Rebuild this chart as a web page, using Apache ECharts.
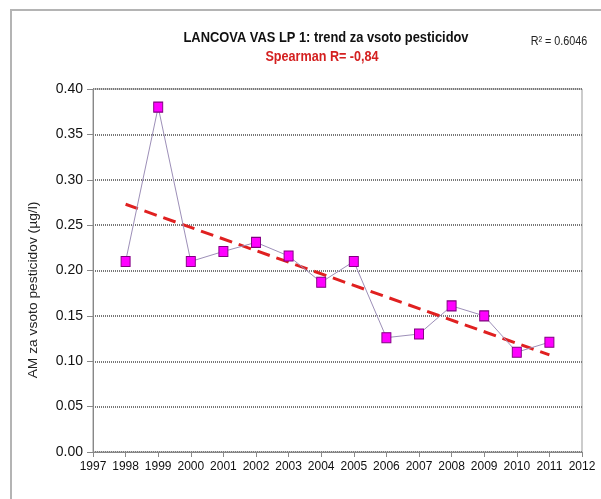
<!DOCTYPE html>
<html>
<head>
<meta charset="utf-8">
<script src="https://cdn.jsdelivr.net/npm/echarts@6/dist/echarts.min.js"></script>
<style>html,body{margin:0;padding:0;background:#fff}#c{width:601px;height:499px}</style>
</head>
<body>
<div id="c"></div>
<script>
var years = [1998, 1999, 2000, 2001, 2002, 2003, 2004, 2005, 2006, 2007, 2008, 2009, 2010, 2011];
var values = [0.21, 0.38, 0.21, 0.221, 0.231, 0.216, 0.187, 0.21, 0.126, 0.13, 0.161, 0.15, 0.11, 0.121];
var trendYears = [1998, 2011];
var trendValues = [0.273, 0.107];
var xTicks = {min: 1997, max: 2012, step: 1};
var yTicks = {min: 0, max: 0.4, step: 0.05};
var titleText = 'LANCOVA VAS LP 1: trend za vsoto pesticidov';
var subText = 'Spearman R= -0,84';
var r2Text = 'R\u00b2 = 0.6046';
var yName = 'AM za vsoto pesticidov (\u00b5g/l)';

var font = '"Liberation Sans", Arial, sans-serif';
var chart = echarts.init(document.getElementById('c'), null, {renderer: 'canvas'});
chart.setOption({
  animation: false,
  backgroundColor: '#fff',
  graphic: [
    {type: 'rect', shape: {x: 11, y: 10, width: 620, height: 520}, style: {fill: 'none', stroke: '#b4b4b4', lineWidth: 2}, z: 0},
    {type: 'text', x: 34, y: 290, rotation: Math.PI / 2, scaleX: 1.15,
      style: {text: yName, font: '12px ' + font, fill: '#222', align: 'center', verticalAlign: 'middle'}},
    {type: 'text', x: 326, y: 38, scaleX: 0.92,
      style: {text: titleText, font: 'bold 14px ' + font, fill: '#111', align: 'center', verticalAlign: 'middle'}},
    {type: 'text', x: 322, y: 57, scaleX: 0.9,
      style: {text: subText, font: 'bold 14px ' + font, fill: '#d42020', align: 'center', verticalAlign: 'middle'}},
    {type: 'text', x: 559, y: 42, scaleX: 0.9,
      style: {text: r2Text, font: '12px ' + font, fill: '#222', align: 'center', verticalAlign: 'middle'}}
  ],
  grid: {left: 93, right: 19, top: 89, bottom: 47, show: true, borderColor: '#999', borderWidth: 1},
  xAxis: {
    type: 'value', min: xTicks.min, max: xTicks.max, interval: xTicks.step,
    axisLine: {show: true, lineStyle: {color: '#888', width: 1}},
    axisTick: {show: true, length: 5, lineStyle: {color: '#888'}},
    splitLine: {show: false},
    axisLabel: {formatter: function (v) { return String(v); }, fontFamily: font, fontSize: 12, color: '#111', margin: 9}
  },
  yAxis: {
    type: 'value', min: yTicks.min, max: yTicks.max, interval: yTicks.step,
    axisLine: {show: true, lineStyle: {color: '#888', width: 1}},
    axisTick: {show: true, length: 6, lineStyle: {color: '#888'}},
    splitLine: {show: true, lineStyle: {color: '#777', width: 2, type: [1, 1]}},
    axisLabel: {formatter: function (v) { return v.toFixed(2); }, fontFamily: font, fontSize: 14, color: '#111', margin: 10}
  },
  series: [
    {
      type: 'line', z: 3,
      data: years.map(function (y, i) { return [y, values[i]]; }),
      symbol: 'rect', symbolSize: [9, 10],
      itemStyle: {color: '#ff00ff', borderColor: '#800080', borderWidth: 1},
      lineStyle: {color: '#9d8fb8', width: 1}
    },
    {
      type: 'line', z: 2,
      data: trendYears.map(function (y, i) { return [y, trendValues[i]]; }),
      symbol: 'none',
      lineStyle: {color: '#e02020', width: 3, type: [13, 7]}
    }
  ]
});
</script>
</body>
</html>
